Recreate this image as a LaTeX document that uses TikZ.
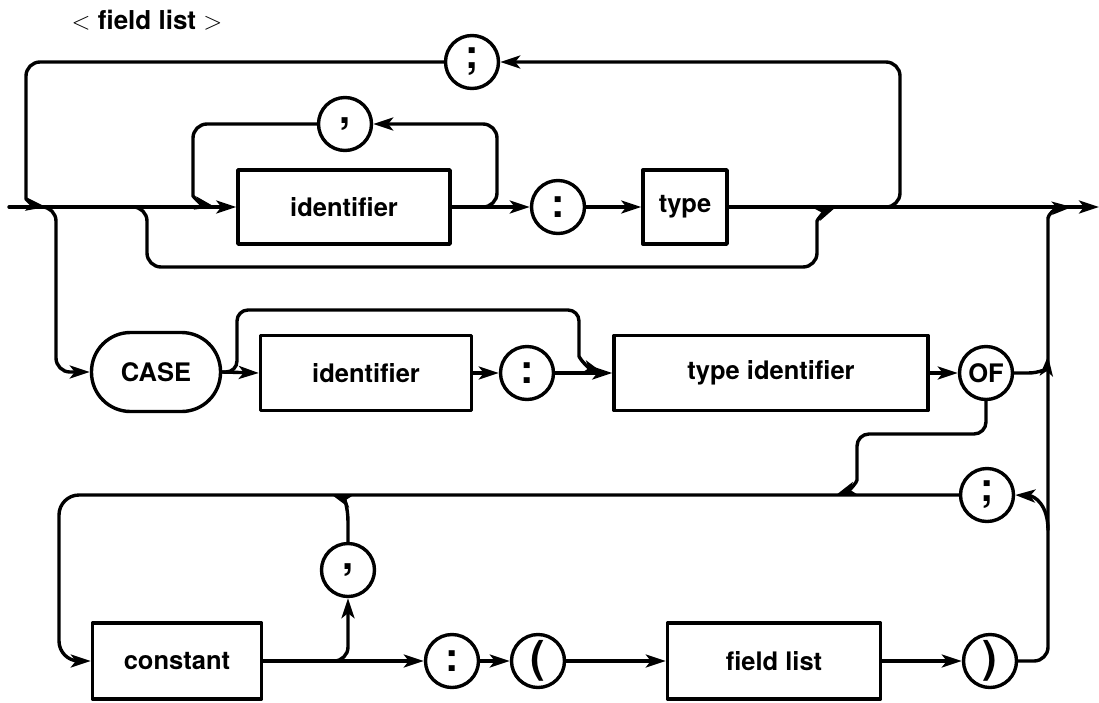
\documentclass[tikz,border=0pt]{standalone}
\usepackage{fontspec}
\setmainfont{TeX Gyre Heros}
\usetikzlibrary{arrows.meta}
\begin{document}
\begin{tikzpicture}[x=1pt,y=-1pt,
  line width=3.4pt, line join=round, line cap=round,
  arr/.style={-{Stealth[length=20pt,width=13pt,inset=5pt]}},
  rc/.style={rounded corners=14pt},
  lbl/.style={font=\bfseries\fontsize{25.5}{30}\selectfont},
  boxn/.style={draw, rectangle, inner sep=0pt, lbl},
  circn/.style={draw, circle, minimum size=53pt, inner sep=0pt, font=\bfseries\fontsize{40}{44}\selectfont},
]
\useasboundingbox (0,0) rectangle (1099,702);

% title
\node[font=\bfseries\fontsize{26}{30}\selectfont] (title) at (147,20) {$<$ field list $>$};

% row 1
\node[boxn, minimum width=212pt, minimum height=74pt] (id1) at (344,207) {identifier};
\node[circn] (cm1) at (345,124) {,};
\node[circn] (sc1) at (472,62) {;};
\node[circn] (cl1) at (558,207) {:};
\node[boxn, minimum width=84pt, minimum height=74pt] (type) at (685,207) {type};

% row 2
\node[draw, rectangle, rounded corners=39pt, minimum width=129pt, minimum height=79pt, inner sep=0pt, lbl] (case) at (156,372) {CASE};
\node[boxn, minimum width=211pt, minimum height=75pt] (id2) at (366,373) {identifier};
\node[circn] (cl2) at (527,373) {:};
\node[boxn, minimum width=314pt, minimum height=75pt] (tid) at (771,373) {type identifier};
\node[circn, font=\bfseries\fontsize{25.5}{30}\selectfont] (of) at (986,373) {OF};

% row 3
\node[boxn, minimum width=169pt, minimum height=76pt] (const) at (177,661) {constant};
\node[circn] (cm2) at (348,570) {,};
\node[circn] (cl3) at (452,661) {:};
\node[circn, font=\bfseries\fontsize{44}{48}\selectfont] (lp) at (538,661) {(};
\node[boxn, minimum width=213pt, minimum height=76pt] (fl) at (774,661) {field list};
\node[circn, font=\bfseries\fontsize{44}{48}\selectfont] (rp) at (990,661) {)};
\node[circn] (sc2) at (987,495) {;};

% coordinates
\coordinate (start) at (9,207);
\coordinate (end) at (1099,207);
\coordinate (tlb) at (866,207);
\coordinate (tlm) at (46,207);
\coordinate (cb) at (38,207);
\coordinate (bpb) at (130,207);
\coordinate (bpm) at (836,207);
\coordinate (cmb) at (478,207);
\coordinate (cmm) at (215,207);
\coordinate (tim) at (603,373);
\coordinate (ofm) at (1048,356);
\coordinate (rvm) at (1072,207);
\coordinate (scb) at (1048,530);
\coordinate (ofd) at (836,495);
\coordinate (cmt) at (332,495);

% row 1 connectors
\draw[arr] (start) -- (id1.west);
\draw[arr] (id1.east) -- (cl1.west);
\draw[arr] (cl1.east) -- (type.west);
\draw[arr] (type.east) -- (end);
\draw[arr, rc] (tlb) -- (900,207) -- (900,62) -- (sc1.east);
\draw[arr, rc] (sc1.west) -- (26,62) -- (26,185) .. controls (26,199) and (32,205) .. (tlm);
\draw[arr, rc] (cb) -- (56,207) -- (56,372) -- (case.west);
\draw[arr, rc] (bpb) -- (147,207) -- (147,267) -- (817,267) -- (817,235) .. controls (817,220) and (824,212) .. (bpm);
\draw[arr, rc] (cmb) -- (497,207) -- (497,124) -- (cm1.east);
\draw[arr, rc] (cm1.west) -- (193,124) -- (193,182) .. controls (193,196) and (200,204) .. (cmm);

% row 2 connectors
\draw[arr] (case.east) -- (id2.west);
\draw[arr, rounded corners=11pt] (case.east) -- (237,372) -- (237,310) -- (579,310) -- (579,345) .. controls (579,358) and (588,368) .. (tim);
\draw[arr] (id2.east) -- (cl2.west);
\draw[arr] (cl2.east) -- (tid.west);
\draw[arr] (tid.east) -- (of.west);
\draw[arr] (of.east) -- (1028,373) .. controls (1040,373) and (1047,368) .. (ofm);
\draw[arr, rounded corners=12pt] (of.south) -- (986,434) -- (857,434) -- (857,468) .. controls (857,482) and (850,490) .. (ofd);

% right vertical
\draw[arr, rc] (rp.east) -- (1048,661) -- (1048,232) .. controls (1048,215) and (1055,208) .. (rvm);
\draw[arr] (scb) .. controls (1048,505) and (1035,496) .. (sc2.east);
\draw[arr, rounded corners=20pt] (sc2.west) -- (59,495) -- (59,661) -- (const.west);

% row 3 connectors
\draw[arr] (const.east) -- (cl3.west);
\draw[arr, rc] (const.east) -- (348,661) -- (cm2.south);
\draw[arr] (cm2.north) -- (348,522) .. controls (348,507) and (344,499) .. (cmt);
\draw[arr] (cl3.east) -- (lp.west);
\draw[arr] (lp.east) -- (fl.west);
\draw[arr] (fl.east) -- (rp.west);
\end{tikzpicture}
\end{document}
